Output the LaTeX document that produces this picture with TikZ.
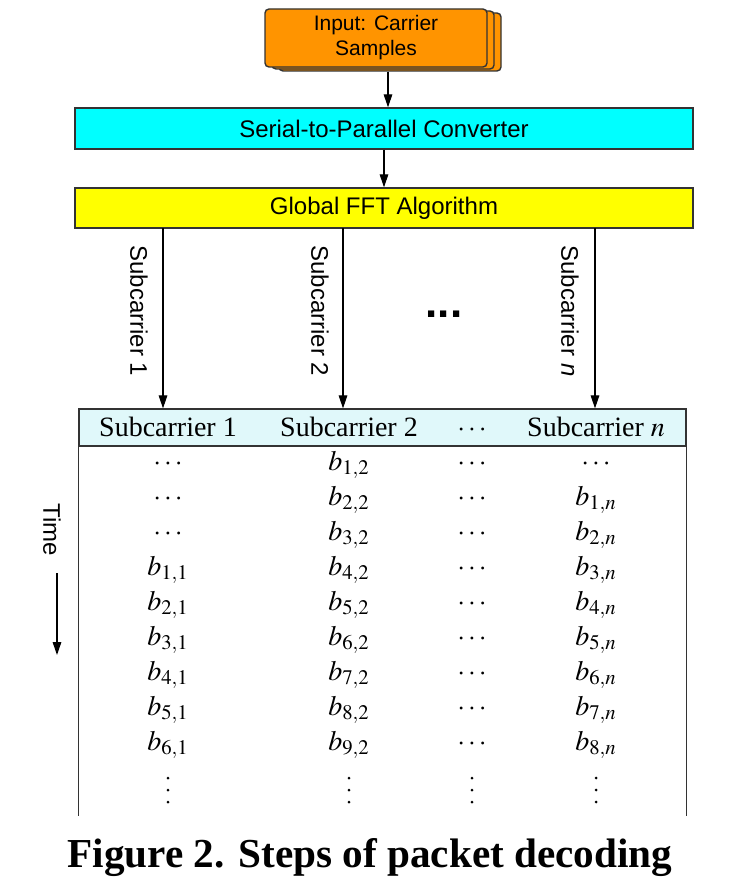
\documentclass[tikz,border=0pt]{standalone}
\usepackage{mathptmx}
\usepackage{fontspec}
\setmainfont{Liberation Serif}
\setsansfont{Liberation Sans}
\usetikzlibrary{arrows.meta,shadows}

\definecolor{inorange}{RGB}{255,148,0}
\definecolor{sercyan}{RGB}{0,255,255}
\definecolor{fftyellow}{RGB}{255,255,0}
\definecolor{headcyan}{RGB}{224,248,250}

\begin{document}
\begin{tikzpicture}[x=0.5pt,y=-0.5pt,
    box/.style={draw=black!80,line width=0.7pt,inner sep=0pt,font=\sffamily\fontsize{12}{14}\selectfont},
    arr/.style={-{Triangle[length=6.5pt,width=4.3pt]},line width=0.55pt},
    cell/.style={anchor=base,inner sep=0pt,font=\fontsize{14}{16}\selectfont},
    lab/.style={rotate=-90,inner sep=0pt,font=\sffamily\fontsize{12}{14}\selectfont}]
    \useasboundingbox (0,0) rectangle (742,882);

    \node[box,fill=inorange,rounded corners=2pt,minimum width=111pt,minimum height=29pt,align=center,
        font=\sffamily\fontsize{10.5}{12.5}\selectfont,
        general shadow={shadow xshift=7pt,shadow yshift=-2pt,fill=inorange,draw=black!80},
        general shadow={shadow xshift=3.5pt,shadow yshift=-1pt,fill=inorange,draw=black!80}]
        (inp) at (376,38) {Input: Carrier\\Samples};
    \node[box,fill=sercyan,minimum width=309pt,minimum height=20.5pt] (ser) at (384,128.5) {Serial-to-Parallel Converter};
    \node[box,fill=fftyellow,minimum width=309pt,minimum height=20pt] (fft) at (384,208) {Global FFT Algorithm};
    \draw[arr] ([xshift=6pt,yshift=-2pt]inp.south) -- ([xshift=6pt]inp.south |- ser.north);
    \draw[arr] (ser) -- (fft);

    \node[draw=black!80,line width=0.6pt,fill=headcyan,inner sep=0pt,minimum width=303.5pt,minimum height=18.5pt] (head) at (382.5,427.5) {};
    \draw[black!80,line width=0.6pt] (head.south west) -- ++(0,369);
    \draw[black!80,line width=0.6pt] (head.south east) -- ++(0,369);

    \foreach \x/\nm in {163/c1,343/c2,595/cn}
        \coordinate (\nm) at (\x,228);
    \draw[arr] (c1) -- (c1 |- head.north);
    \draw[arr] (c2) -- (c2 |- head.north);
    \draw[arr] (cn) -- (cn |- head.north);
    \node[lab] (l1) at (139,311) {Subcarrier 1};
    \node[lab] (l2) at (320,311) {Subcarrier 2};
    \node[lab] (ln) at (570,311) {Subcarrier \textit{n}};
    \node[inner sep=0pt,font=\sffamily\bfseries\fontsize{22}{22}\selectfont] (gap) at (444,314) {...};

    \node[cell] (h1) at (168,436) {Subcarrier 1};
    \node[cell] (h2) at (349,436) {Subcarrier 2};
    \node[cell] (h3) at (472,436) {$\cdots$};
    \node[cell] (h4) at (596,436) {Subcarrier $n$};

    \foreach \i in {1,...,9} {
        \pgfmathsetmacro\y{470+35*(\i-1)}
        \pgfmathtruncatemacro\ka{\i-3}
        \pgfmathtruncatemacro\kn{\i-1}
        \node[cell] (a\i) at (168,\y) {\ifnum\i>3 $b_{\ka,1}$\else $\cdots$\fi};
        \node[cell] (b\i) at (349,\y) {$b_{\i,2}$};
        \node[cell] (c\i) at (472,\y) {$\cdots$};
        \node[cell] (d\i) at (596,\y) {\ifnum\i>1 $b_{\kn,n}$\else $\cdots$\fi};
    }
    \foreach \x in {168,349,472,596}
        \foreach \y in {778,790,802}
            \fill (\x,\y) circle (1.5);

    \node[lab] (time) at (52,530) {Time};
    \coordinate (t0) at (57,573);
    \coordinate (t1) at (57,655);
    \draw[arr] (t0) -- (t1);

    \node[anchor=base,inner sep=0pt,font=\bfseries\fontsize{20.6}{24}\selectfont] (cap) at (370,867) {Figure 2. Steps of packet decoding};
\end{tikzpicture}
\end{document}
